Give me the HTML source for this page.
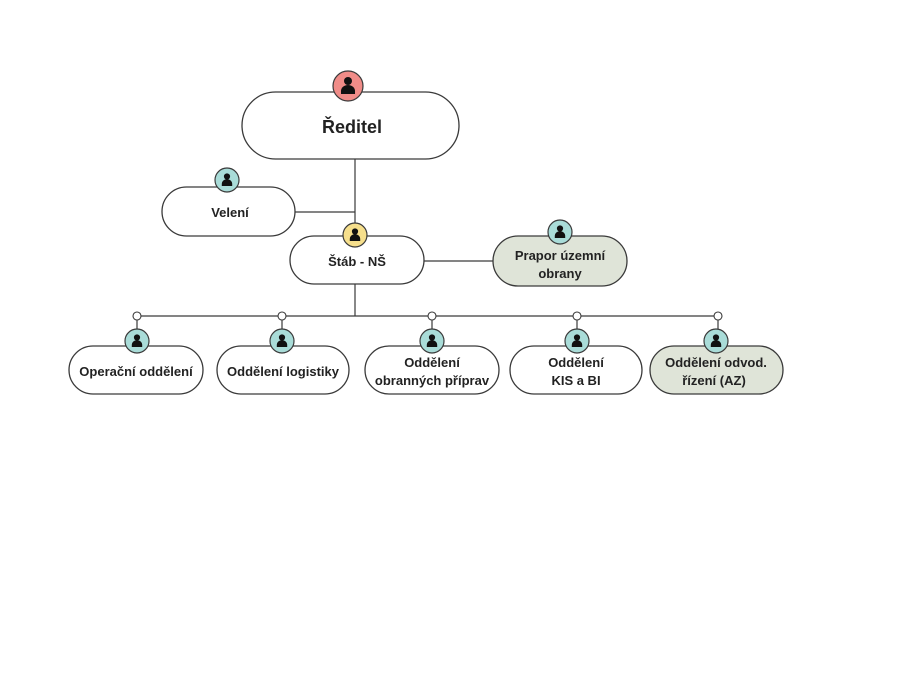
<!DOCTYPE html>
<html>
<head>
<meta charset="utf-8">
<style>
  html, body { margin:0; padding:0; background:#ffffff; }
  svg { display:block; }
  text { font-family:"Liberation Sans", Arial, sans-serif; font-weight:bold; fill:#222; }
</style>
</head>
<body>
<svg width="924" height="693" viewBox="0 0 924 693" xmlns="http://www.w3.org/2000/svg">
  <rect width="924" height="693" fill="#ffffff"/>

  <!-- connectors -->
  <g stroke="#3a3a3a" stroke-width="1.2" fill="none">
    <line x1="355" y1="159" x2="355" y2="236"/>
    <line x1="295" y1="212" x2="355" y2="212"/>
    <line x1="424" y1="261" x2="493" y2="261"/>
    <line x1="355" y1="284" x2="355" y2="316"/>
    <line x1="137" y1="316" x2="718" y2="316"/>
    <line x1="137" y1="320" x2="137" y2="330"/>
    <line x1="282" y1="320" x2="282" y2="330"/>
    <line x1="432" y1="320" x2="432" y2="330"/>
    <line x1="577" y1="320" x2="577" y2="330"/>
    <line x1="718" y1="320" x2="718" y2="330"/>
  </g>
  <g stroke="#3a3a3a" stroke-width="1.1" fill="#ffffff">
    <circle cx="137" cy="316" r="4"/>
    <circle cx="282" cy="316" r="4"/>
    <circle cx="432" cy="316" r="4"/>
    <circle cx="577" cy="316" r="4"/>
    <circle cx="718" cy="316" r="4"/>
  </g>

  <!-- boxes -->
  <g stroke="#3a3a3a" stroke-width="1.3">
    <rect x="242" y="92" width="217" height="67" rx="33.5" fill="#ffffff"/>
    <rect x="162" y="187" width="133" height="49" rx="24.5" fill="#ffffff"/>
    <rect x="290" y="236" width="134" height="48" rx="24" fill="#ffffff"/>
    <rect x="493" y="236" width="134" height="50" rx="25" fill="#dfe4d8"/>
    <rect x="69" y="346" width="134" height="48" rx="24" fill="#ffffff"/>
    <rect x="217" y="346" width="132" height="48" rx="24" fill="#ffffff"/>
    <rect x="365" y="346" width="134" height="48" rx="24" fill="#ffffff"/>
    <rect x="510" y="346" width="132" height="48" rx="24" fill="#ffffff"/>
    <rect x="650" y="346" width="133" height="48" rx="24" fill="#dfe4d8"/>
  </g>

  <!-- icons -->
  <g stroke="#3a3a3a" stroke-width="1.2">
    <circle cx="348" cy="86" r="15" fill="#f08c88"/>
    <circle cx="227" cy="180" r="12" fill="#a9dcd8"/>
    <circle cx="355" cy="235" r="12" fill="#f6df8c"/>
    <circle cx="560" cy="232" r="12" fill="#a9dcd8"/>
    <circle cx="137" cy="341" r="12" fill="#a9dcd8"/>
    <circle cx="282" cy="341" r="12" fill="#a9dcd8"/>
    <circle cx="432" cy="341" r="12" fill="#a9dcd8"/>
    <circle cx="577" cy="341" r="12" fill="#a9dcd8"/>
    <circle cx="716" cy="341" r="12" fill="#a9dcd8"/>
  </g>
  <g fill="#111">
    <!-- Reditel person -->
    <circle cx="348" cy="81" r="4"/>
    <path d="M341 94 v-3 a7 6 0 0 1 14 0 v3 z"/>
    <!-- small persons -->
    <circle cx="227" cy="176.5" r="3.1"/>
    <path d="M221.8 186 v-2.3 a5.2 4.6 0 0 1 10.4 0 v2.3 z"/>
    <circle cx="355" cy="231.5" r="3.1"/>
    <path d="M349.8 241 v-2.3 a5.2 4.6 0 0 1 10.4 0 v2.3 z"/>
    <circle cx="560" cy="228.5" r="3.1"/>
    <path d="M554.8 238 v-2.3 a5.2 4.6 0 0 1 10.4 0 v2.3 z"/>
    <circle cx="137" cy="337.5" r="3.1"/>
    <path d="M131.8 347 v-2.3 a5.2 4.6 0 0 1 10.4 0 v2.3 z"/>
    <circle cx="282" cy="337.5" r="3.1"/>
    <path d="M276.8 347 v-2.3 a5.2 4.6 0 0 1 10.4 0 v2.3 z"/>
    <circle cx="432" cy="337.5" r="3.1"/>
    <path d="M426.8 347 v-2.3 a5.2 4.6 0 0 1 10.4 0 v2.3 z"/>
    <circle cx="577" cy="337.5" r="3.1"/>
    <path d="M571.8 347 v-2.3 a5.2 4.6 0 0 1 10.4 0 v2.3 z"/>
    <circle cx="716" cy="337.5" r="3.1"/>
    <path d="M710.8 347 v-2.3 a5.2 4.6 0 0 1 10.4 0 v2.3 z"/>
  </g>

  <!-- labels -->
  <g text-anchor="middle">
    <text x="352" y="133" font-size="18">Ředitel</text>
    <text x="230" y="217" font-size="13">Velení</text>
    <text x="357" y="266" font-size="13">Štáb - NŠ</text>
    <text x="560" y="260" font-size="13">Prapor územní</text>
    <text x="560" y="278" font-size="13">obrany</text>
    <text x="136" y="376" font-size="13">Operační oddělení</text>
    <text x="283" y="376" font-size="13">Oddělení logistiky</text>
    <text x="432" y="367" font-size="13">Oddělení</text>
    <text x="432" y="385" font-size="13">obranných příprav</text>
    <text x="576" y="367" font-size="13">Oddělení</text>
    <text x="576" y="385" font-size="13">KIS a BI</text>
    <text x="716" y="367" font-size="13">Oddělení odvod.</text>
    <text x="714" y="385" font-size="13">řízení  (AZ)</text>
  </g>
</svg>
</body>
</html>
